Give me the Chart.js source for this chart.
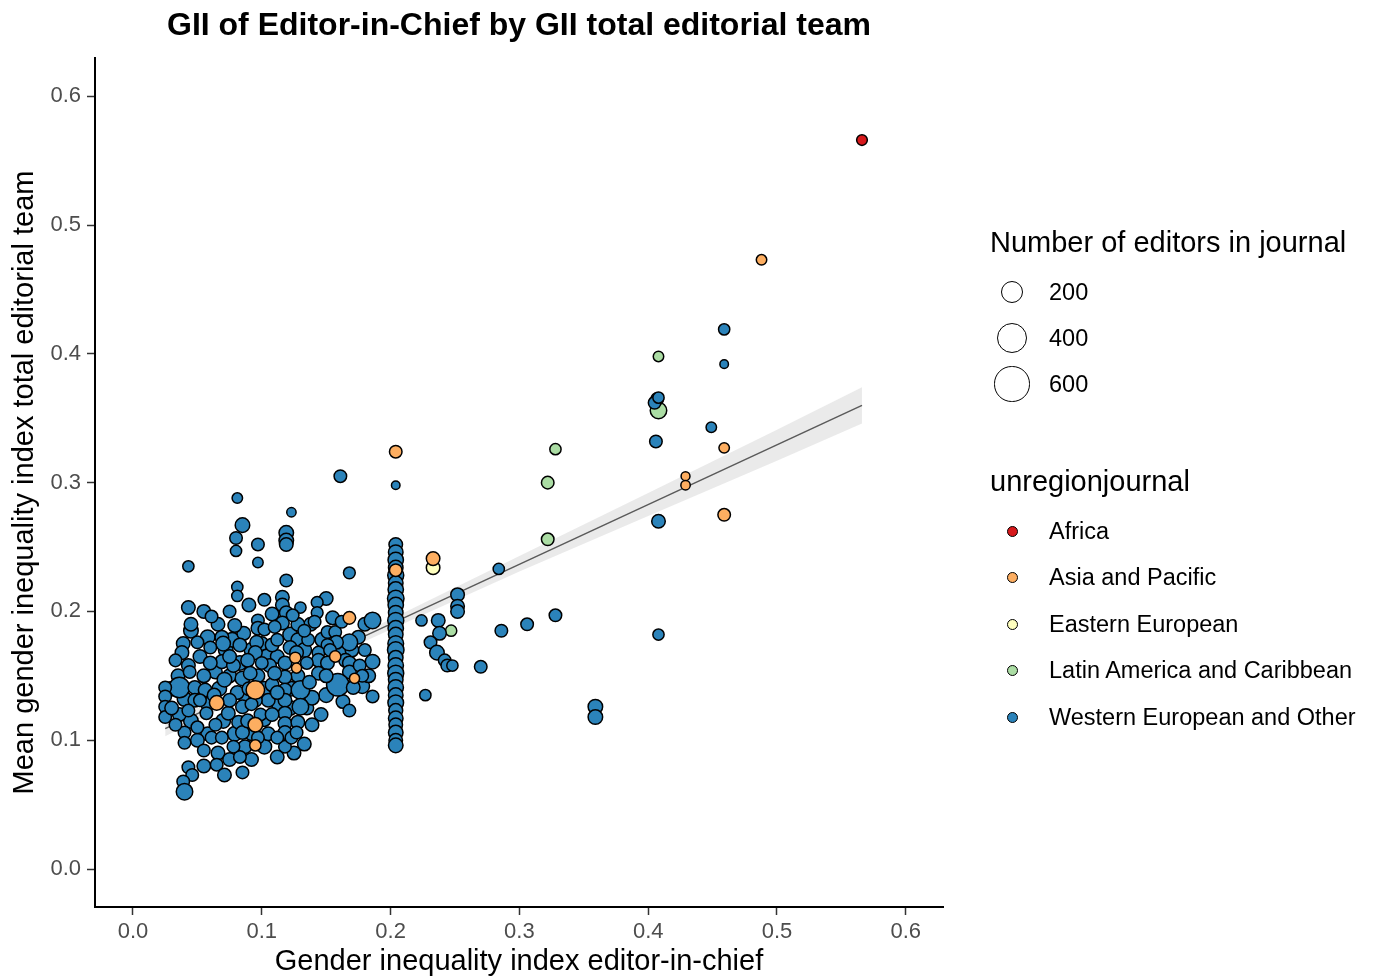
<!DOCTYPE html>
<html>
<head>
<meta charset="utf-8">
<title>GII of Editor-in-Chief by GII total editorial team</title>
<script src="https://cdn.jsdelivr.net/npm/chart.js@4.4.1/dist/chart.umd.min.js"></script>
<style>
  html, body { margin: 0; padding: 0; background: #fff; }
  #wrap { position: relative; width: 1376px; height: 978px; font-family: "Liberation Sans", Arial, sans-serif; }
  #chart { position: absolute; left: 0; top: 0; }
  .lg-title { position: absolute; font-size: 29px; line-height: 29px; color: #000; white-space: nowrap; }
  .lg-label { position: absolute; font-size: 23.5px; line-height: 23.5px; color: #000; white-space: nowrap; }
  .lg-key { position: absolute; border-radius: 50%; box-sizing: border-box; border: 1.5px solid #000; }
</style>
</head>
<body>
<div id="wrap">
  <canvas id="chart" width="1376" height="978"></canvas>
  <div id="legend"></div>
</div>
<script>
// ---- data ----
const regionNames = ['Africa', 'Asia and Pacific', 'Eastern European', 'Latin America and Caribbean', 'Western European and Other'];
const regionColors = ['#D7191C', '#FDAE61', '#FFFFBF', '#ABDDA4', '#2B83BA'];

const africaX = [0.566];
const africaY = [0.566];
const africaN = [25];

const asiaX = [0.488, 0.459, 0.429, 0.429, 0.459, 0.204, 0.233, 0.168, 0.065, 0.095, 0.095, 0.095, 0.126, 0.127, 0.157, 0.172, 0.204];
const asiaY = [0.473, 0.327, 0.305, 0.298, 0.275, 0.324, 0.241, 0.195, 0.129, 0.139, 0.112, 0.096, 0.164, 0.156, 0.165, 0.148, 0.232];
const asiaN = [23, 23, 12, 15, 43, 43, 55, 43, 68, 135, 68, 30, 30, 20, 30, 20, 43];

const easternX = [0.233];
const easternY = [0.234];
const easternN = [55];

const latinX = [0.408, 0.408, 0.328, 0.322, 0.322, 0.247];
const latinY = [0.398, 0.356, 0.326, 0.300, 0.256, 0.185];
const latinN = [23, 98, 30, 43, 43, 30];

const westX = [
  // dense cluster, extra journals filling the blob
  0.035, 0.045, 0.052, 0.058, 0.066, 0.072, 0.077, 0.086, 0.092, 0.100,
  0.104, 0.112, 0.122, 0.128, 0.133, 0.138, 0.147, 0.155, 0.160, 0.175,
  0.180, 0.178, 0.163, 0.150, 0.146, 0.139, 0.133, 0.125, 0.112, 0.102,
  0.092, 0.079, 0.070, 0.058, 0.050, 0.045, 0.036, 0.030, 0.040, 0.058,
  0.067, 0.075, 0.083, 0.097, 0.102, 0.088, 0.113, 0.123, 0.128, 0.135,
  0.066, 0.055, 0.075, 0.092, 0.105, 0.122, 0.045, 0.055, 0.090, 0.108,
  0.128, 0.150, 0.170, 0.183,
  // individually visible journals
  0.161, 0.204, 0.081, 0.123, 0.085, 0.080, 0.080, 0.097, 0.097, 0.119,
  0.119, 0.119, 0.043, 0.168, 0.081, 0.081, 0.119, 0.102, 0.043, 0.061,
  0.075, 0.079, 0.097, 0.097, 0.116, 0.116, 0.119, 0.116, 0.130, 0.124,
  0.143, 0.143, 0.141, 0.151, 0.157, 0.162, 0.186, 0.168, 0.158, 0.151,
  0.144, 0.144, 0.151, 0.165, 0.168, 0.168, 0.144, 0.159, 0.171, 0.186,
  0.139, 0.186, 0.168, 0.039, 0.038, 0.050, 0.069, 0.070, 0.083, 0.096,
  0.095, 0.108, 0.112, 0.122, 0.127, 0.043, 0.044, 0.036, 0.025, 0.025,
  0.025, 0.025, 0.048, 0.048, 0.043, 0.057, 0.064, 0.069, 0.071, 0.078,
  0.085, 0.081, 0.085, 0.074, 0.082, 0.089, 0.091, 0.050, 0.040, 0.040,
  0.061, 0.069, 0.085, 0.087, 0.083, 0.065, 0.071, 0.085, 0.043, 0.046,
  0.039, 0.040, 0.097, 0.105, 0.102, 0.106, 0.108, 0.118, 0.118, 0.118,
  0.118, 0.118, 0.118, 0.118, 0.118, 0.112, 0.123, 0.130, 0.130, 0.128,
  0.127, 0.153, 0.136, 0.102, 0.060, 0.056, 0.095, 0.099, 0.075, 0.064,
  0.052, 0.033, 0.033, 0.060, 0.090, 0.108, 0.075, 0.100, 0.135, 0.137,
  0.150, 0.176, 0.180, 0.178, 0.133, 0.110, 0.030, 0.055, 0.063, 0.089,
  0.078, 0.055, 0.112, 0.110, 0.092,
  // right of the 0.2 column
  0.227, 0.224, 0.237, 0.238, 0.231, 0.236, 0.242, 0.244, 0.248, 0.252,
  0.252, 0.252, 0.270, 0.284, 0.286, 0.306, 0.328, 0.359, 0.359, 0.408,
  0.408, 0.406, 0.407, 0.405, 0.408, 0.449, 0.459, 0.459,
  // column at 0.2
  0.204, 0.204, 0.204, 0.204, 0.204, 0.204, 0.204, 0.204, 0.204, 0.204,
  0.204, 0.204, 0.204, 0.204, 0.204, 0.204, 0.204, 0.204, 0.204, 0.204,
  0.204, 0.204, 0.204, 0.204, 0.204, 0.204, 0.204, 0.204
];
const westY = [
  0.150, 0.185, 0.165, 0.180, 0.190, 0.170, 0.178, 0.183, 0.170, 0.175,
  0.165, 0.165, 0.182, 0.178, 0.170, 0.190, 0.178, 0.195, 0.168, 0.180,
  0.190, 0.142, 0.130, 0.135, 0.120, 0.112, 0.097, 0.090, 0.087, 0.095,
  0.105, 0.105, 0.115, 0.105, 0.100, 0.115, 0.120, 0.140, 0.132, 0.128,
  0.140, 0.150, 0.160, 0.150, 0.140, 0.132, 0.128, 0.140, 0.150, 0.125,
  0.090, 0.080, 0.085, 0.085, 0.105, 0.125, 0.190, 0.200, 0.205, 0.198,
  0.190, 0.210, 0.170, 0.150,
  0.305, 0.298, 0.288, 0.277, 0.267, 0.257, 0.247, 0.252, 0.238, 0.261,
  0.255, 0.252, 0.235, 0.230, 0.219, 0.212, 0.224, 0.209, 0.203, 0.196,
  0.200, 0.189, 0.193, 0.187, 0.211, 0.205, 0.199, 0.191, 0.203, 0.197,
  0.207, 0.199, 0.192, 0.184, 0.184, 0.192, 0.193, 0.176, 0.176, 0.174,
  0.168, 0.162, 0.160, 0.162, 0.160, 0.153, 0.152, 0.143, 0.141, 0.161,
  0.133, 0.134, 0.123, 0.175, 0.168, 0.176, 0.180, 0.175, 0.174, 0.176,
  0.168, 0.174, 0.178, 0.172, 0.168, 0.158, 0.153, 0.141, 0.141, 0.134,
  0.126, 0.118, 0.141, 0.131, 0.123, 0.121, 0.153, 0.161, 0.147, 0.158,
  0.148, 0.137, 0.126, 0.121, 0.114, 0.162, 0.152, 0.110, 0.106, 0.098,
  0.102, 0.102, 0.106, 0.095, 0.087, 0.081, 0.073, 0.075, 0.079, 0.073,
  0.068, 0.060, 0.102, 0.131, 0.116, 0.158, 0.143, 0.160, 0.149, 0.139,
  0.131, 0.121, 0.113, 0.106, 0.095, 0.102, 0.102, 0.139, 0.126, 0.114,
  0.106, 0.170, 0.178, 0.186, 0.172, 0.139, 0.131, 0.120, 0.131, 0.112,
  0.131, 0.112, 0.162, 0.160, 0.140, 0.120, 0.165, 0.160, 0.160, 0.145,
  0.150, 0.158, 0.170, 0.150, 0.185, 0.188, 0.125, 0.150, 0.135, 0.115,
  0.095, 0.092, 0.137, 0.152, 0.128,
  0.135, 0.193, 0.193, 0.183, 0.176, 0.168, 0.162, 0.158, 0.158, 0.213,
  0.204, 0.200, 0.157, 0.233, 0.185, 0.190, 0.197, 0.126, 0.118, 0.182,
  0.270, 0.332, 0.365, 0.362, 0.366, 0.343, 0.419, 0.392,
  0.252, 0.246, 0.240, 0.234, 0.228, 0.222, 0.217, 0.210, 0.205, 0.199,
  0.193, 0.187, 0.182, 0.175, 0.170, 0.164, 0.158, 0.152, 0.147, 0.141,
  0.135, 0.129, 0.123, 0.117, 0.112, 0.106, 0.100, 0.096
];
const westN = [
  55, 68, 55, 68, 55, 68, 68, 55, 68, 55,
  68, 55, 68, 55, 68, 55, 68, 55, 68, 55,
  55, 68, 55, 68, 55, 55, 55, 55, 55, 68,
  55, 68, 68, 55, 55, 68, 55, 68, 68, 55,
  68, 55, 68, 55, 68, 68, 55, 68, 55, 55,
  55, 55, 55, 55, 55, 68, 55, 55, 55, 55,
  55, 55, 55, 55,
  43, 10, 23, 15, 68, 43, 30, 43, 23, 68,
  68, 55, 30, 35, 30, 30, 43, 43, 55, 43,
  43, 55, 43, 55, 55, 55, 55, 55, 30, 43,
  35, 35, 43, 43, 43, 43, 98, 100, 55, 43,
  43, 55, 55, 55, 55, 55, 55, 225, 55, 68,
  68, 43, 43, 55, 55, 43, 55, 68, 55, 55,
  55, 55, 43, 55, 55, 55, 43, 177, 43, 43,
  43, 43, 55, 55, 43, 43, 55, 55, 68, 55,
  68, 55, 55, 55, 55, 55, 55, 43, 43, 43,
  43, 43, 55, 55, 43, 43, 55, 43, 43, 43,
  43, 98, 43, 55, 55, 55, 55, 55, 55, 55,
  55, 55, 55, 55, 43, 43, 43, 135, 98, 55,
  43, 43, 43, 43, 43, 55, 55, 43, 55, 43,
  43, 43, 43, 55, 55, 55, 55, 43, 43, 55,
  55, 43, 43, 43, 43, 43, 55, 55, 55, 55,
  43, 43, 55, 55, 43,
  30, 30, 55, 55, 43, 68, 43, 43, 30, 55,
  55, 55, 43, 30, 43, 43, 43, 68, 68, 30,
  55, 43, 43, 43, 30, 23, 30, 10,
  55, 68, 80, 68, 90, 68, 80, 98, 80, 68,
  90, 80, 68, 85, 98, 68, 80, 90, 68, 80,
  68, 85, 60, 68, 55, 68, 55, 68
];

// linear fit and its confidence band
const fitX = [0.025, 0.566];
const fitY = [0.109, 0.360];
const bandX = [0.025, 0.1, 0.2, 0.3, 0.4, 0.5, 0.566];
const bandLow = [0.103, 0.140, 0.186, 0.231, 0.274, 0.317, 0.346];
const bandHigh = [0.115, 0.148, 0.194, 0.243, 0.292, 0.341, 0.374];

const tickValues = [0, 0.1, 0.2, 0.3, 0.4, 0.5, 0.6];
const sizeBreaks = [200, 400, 600];

// ---- helpers ----
// ggplot-like area scale: outer radius in px
function editorsToRadius(n) {
  return 3.15 + 0.59 * Math.sqrt(n);
}
function toPoints(xs, ys) {
  return xs.map((x, i) => ({ x: x, y: ys[i] }));
}
function regionDataset(idx, xs, ys, ns, order) {
  return {
    label: regionNames[idx],
    data: toPoints(xs, ys),
    backgroundColor: regionColors[idx],
    borderColor: '#000',
    borderWidth: 1.5,
    pointRadius: ns.map(n => editorsToRadius(n) - 0.75),
    order: order
  };
}

const fontFamily = '"Liberation Sans", Arial, sans-serif';

const ctx = document.getElementById('chart').getContext('2d');
const chart = new Chart(ctx, {
  type: 'scatter',
  data: {
    datasets: [
      regionDataset(0, africaX, africaY, africaN, 1),
      regionDataset(1, asiaX, asiaY, asiaN, 2),
      regionDataset(2, easternX, easternY, easternN, 3),
      regionDataset(4, westX, westY, westN, 4),
      regionDataset(3, latinX, latinY, latinN, 5),
      {
        label: 'fit',
        data: toPoints(fitX, fitY),
        showLine: true,
        borderColor: '#5a5a5a',
        borderWidth: 1.5,
        pointRadius: 0,
        order: 6
      },
      {
        label: 'upper',
        data: toPoints(bandX, bandHigh),
        showLine: true,
        borderWidth: 0,
        pointRadius: 0,
        order: 7
      },
      {
        label: 'lower',
        data: toPoints(bandX, bandLow),
        showLine: true,
        borderWidth: 0,
        pointRadius: 0,
        fill: '-1',
        backgroundColor: 'rgba(190,190,190,0.32)',
        order: 7
      }
    ]
  },
  options: {
    responsive: false,
    animation: false,
    events: [],
    layout: { padding: { left: 0, right: 433, top: 0, bottom: 0 } },
    plugins: {
      legend: { display: false },
      tooltip: { enabled: false },
      title: {
        display: true,
        fullSize: false,
        text: 'GII of Editor-in-Chief by GII total editorial team',
        color: '#000',
        font: { family: fontFamily, size: 32, weight: 'bold', lineHeight: 1.2 },
        padding: { top: 7, bottom: 12.6 }
      }
    },
    scales: {
      x: {
        type: 'linear',
        min: -0.0295,
        max: 0.6289,
        afterBuildTicks: s => { s.ticks = tickValues.map(v => ({ value: v })); },
        afterFit: s => { s.height = 71; },
        grid: { drawOnChartArea: false, drawTicks: true, tickLength: 8, tickColor: '#333', tickWidth: 1.5 },
        border: { display: true, color: '#000', width: 2 },
        ticks: {
          color: '#4d4d4d',
          padding: 4,
          maxRotation: 0,
          font: { family: fontFamily, size: 22 },
          callback: v => v.toFixed(1)
        },
        title: {
          display: true,
          text: 'Gender inequality index editor-in-chief',
          color: '#000',
          font: { family: fontFamily, size: 29, lineHeight: 1.1 },
          padding: { top: 0, bottom: 0 }
        }
      },
      y: {
        type: 'linear',
        min: -0.0295,
        max: 0.6297,
        afterBuildTicks: s => { s.ticks = tickValues.map(v => ({ value: v })); },
        afterFit: s => { s.width = 95; },
        grid: { drawOnChartArea: false, drawTicks: true, tickLength: 8, tickColor: '#333', tickWidth: 1.5 },
        border: { display: true, color: '#000', width: 2 },
        ticks: {
          color: '#4d4d4d',
          padding: 6,
          font: { family: fontFamily, size: 22 },
          callback: v => v.toFixed(1)
        },
        title: {
          display: true,
          text: 'Mean gender inequality index total editorial team',
          color: '#000',
          font: { family: fontFamily, size: 29, lineHeight: 1.1 },
          padding: { top: 9, bottom: 0 }
        }
      }
    }
  }
});

// ---- legends (ggplot style, to the right) ----
const legend = document.getElementById('legend');
function addDiv(cls, text, left, top, extra) {
  const d = document.createElement('div');
  d.className = cls;
  if (text) d.textContent = text;
  d.style.left = left + 'px';
  d.style.top = top + 'px';
  if (extra) Object.assign(d.style, extra);
  legend.appendChild(d);
  return d;
}
function addKey(cx, cy, r, fill) {
  addDiv('lg-key', '', cx - r, cy - r, { width: 2 * r + 'px', height: 2 * r + 'px', background: fill });
}

addDiv('lg-title', 'Number of editors in journal', 990, 227.5);
sizeBreaks.forEach((b, i) => {
  const cy = 292 + i * 46;
  addKey(1012, cy, editorsToRadius(b), '#fff');
  addDiv('lg-label', String(b), 1049, cy - 11.5);
});

addDiv('lg-title', 'unregionjournal', 990, 466.5);
regionNames.forEach((name, i) => {
  const cy = 531 + i * 46.5;
  addKey(1012, cy, 5.5, regionColors[i]);
  addDiv('lg-label', name, 1049, cy - 11.5);
});
</script>
</body>
</html>
